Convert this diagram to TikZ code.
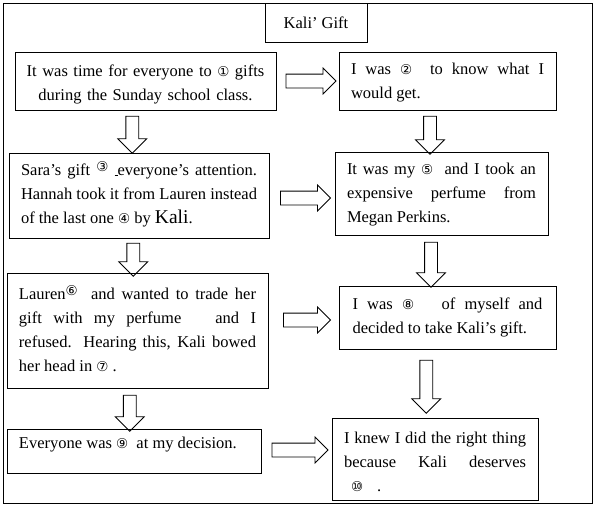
\documentclass[tikz,border=0pt]{standalone}
\usepackage{fontspec}
\setmainfont{Liberation Serif}
\newfontfamily\circfont{DejaVu Sans}
\usetikzlibrary{positioning,shapes.arrows,calc}
\hyphenpenalty=10000
\exhyphenpenalty=10000

\newcommand{\cn}[1]{{\circfont\fontsize{13.5pt}{12pt}\selectfont #1}}

\tikzset{
  storybox/.style={draw, line width=0.8pt, rectangle, align=justify, inner xsep=12pt, inner ysep=2pt,
    font=\fontsize{16.5pt}{24pt}\selectfont},
  rarrow/.style={single arrow, draw, line width=0.8pt, inner xsep=0pt, inner ysep=6.5pt,
    single arrow head extend=6pt},
  darrow/.style={single arrow, draw, line width=0.8pt, inner xsep=0pt, inner ysep=6pt,
    single arrow head extend=8pt, rotate=-90}
}

\begin{document}
\begin{tikzpicture}[x=1pt,y=-1pt]
        \useasboundingbox (0,0) rectangle (595,506);
        \draw[line width=0.8pt] (3,3) rectangle (592,503);
        \node[storybox, align=center, minimum width=102pt, minimum height=39pt] at (316,22.5) (title) {Kali’ Gift};
        % left column
        \node[storybox, align=center, minimum width=261pt, minimum height=58pt, text width=255pt, inner xsep=3pt,
        text height=19.5pt] at (145.5,81) (b1)
        {It was time for everyone to \cn{①} gifts\\ during the Sunday school class.};
        \node[storybox, minimum width=260pt, minimum height=85pt, text width=236pt, text height=11pt] at (139,195.5) (b3)
        {Sara’s gift \raisebox{4pt}{\cn{③}}\ \rule{3pt}{0.4pt}everyone’s attention.\linebreak Hannah took it from Lauren instead\linebreak of the last one \cn{④}\ by {\fontsize{19.5pt}{24pt}\selectfont Kali}.};
        \node[storybox, minimum width=261pt, minimum height=115pt, text width=237pt, text height=11pt] at (137.5,330.5) (b5)
        {Lauren\raisebox{4pt}{\cn{⑥}}\ \ and wanted to trade her\linebreak gift with my perfume\ \ \ and I\linebreak refused. Hearing this, Kali bowed\linebreak her head in \cn{⑦}\ .};
        \node[storybox, minimum width=254pt, minimum height=44pt, text width=230pt, inner ysep=0pt,
        text height=19pt, text depth=25pt] at (134,451) (b7)
        {Everyone was \cn{⑨}\ \ at my decision.};
        % right column
        \node[storybox, minimum width=217pt, minimum height=58pt, text width=193pt, text height=15pt] at (447.5,81) (b2)
        {I was \cn{②}\ \ to know what I\linebreak would get.};
        \node[storybox, minimum width=213pt, minimum height=83pt, text width=189pt, text height=14.5pt] at (441.5,193.5) (b4)
        {It was my \cn{⑤}\ \ and I took an\linebreak expensive perfume from\linebreak Megan Perkins.};
        \node[storybox, minimum width=217pt, minimum height=63pt, text width=190pt, text height=11pt] at (447.5,317.5) (b6)
        {I was \cn{⑧}\ \ \ of myself and\linebreak decided to take Kali’s gift.};
        \node[storybox, minimum width=206pt, minimum height=82pt, text width=182pt, text height=17pt] at (435,459) (b8)
        {I knew I did the right thing\linebreak because Kali deserves\linebreak \hspace*{7pt}\cn{⑩}\hspace{14pt}.};
        % arrows across
        \node[rarrow, minimum height=50pt] at ($(b1.east)!.5!(b2.west)$) (a12) {};
        \node[rarrow, minimum height=50pt] at ($(b3.east)!.5!(b4.west)+(0,3.5)$) (a34) {};
        \node[rarrow, minimum height=47pt] at ($(b5.east)!.5!(b6.west)+(0,-4)$) (a56) {};
        \node[rarrow, minimum height=56pt] at ($(b7.east)!.5!(b8.west)+(0,-5)$) (a78) {};
        % arrows down
        \node[darrow, minimum height=37pt] at ($(b1.south)!.5!(b3.north)+(-10,0)$) (a13) {};
        \node[darrow, minimum height=33pt] at ($(b3.south)!.5!(b5.north)+(-5,1)$) (a35) {};
        \node[darrow, minimum height=36pt] at ($(b5.south)!.5!(b7.north)+(-6,1.5)$) (a57) {};
        \node[darrow, minimum height=38pt] at ($(b2.south)!.5!(b4.north)+(-14.5,1)$) (a24) {};
        \node[darrow, minimum height=45pt] at ($(b4.south)!.5!(b6.north)+(-13.5,1)$) (a46) {};
        \node[darrow, minimum height=53pt] at ($(b6.south)!.5!(b8.north)+(-15,0)$) (a68) {};
\end{tikzpicture}
\end{document}
